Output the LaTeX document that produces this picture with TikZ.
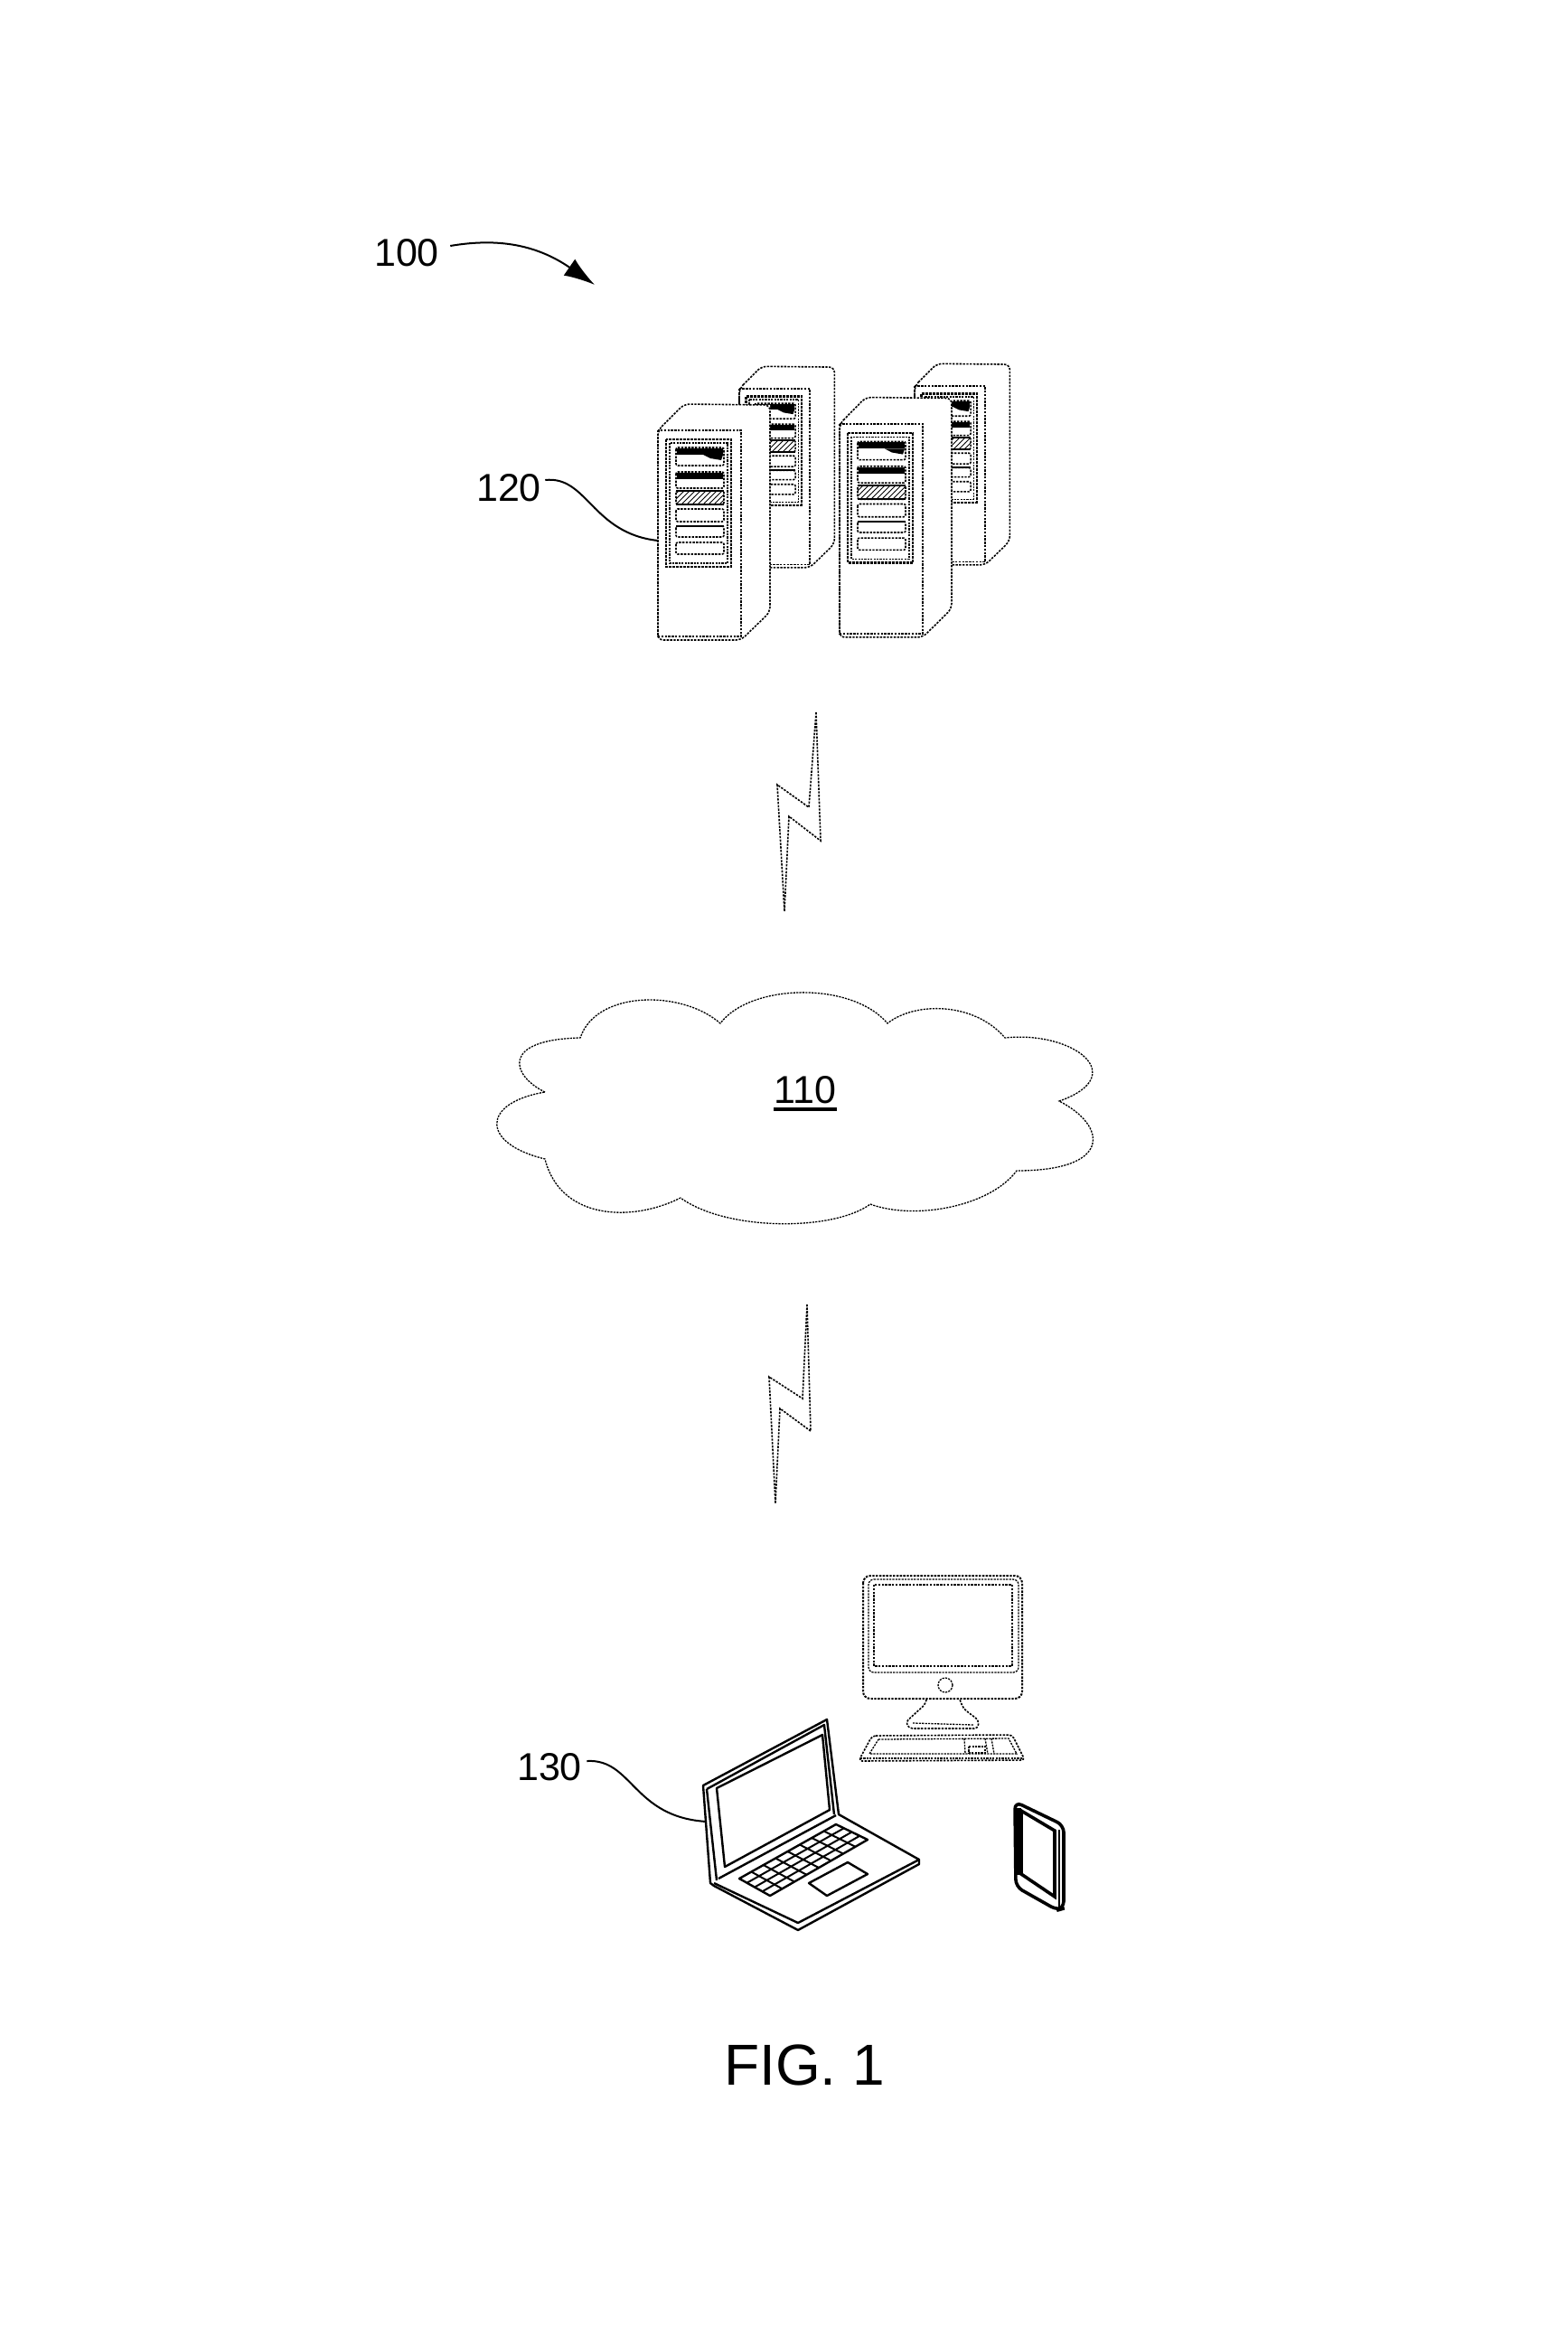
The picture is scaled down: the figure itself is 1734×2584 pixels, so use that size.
\documentclass[tikz,border=0pt]{standalone}
\usepackage{fontspec}
\setmainfont{Liberation Sans}
\usetikzlibrary{calc,arrows.meta,patterns}

\tikzset{
  grain/.style={line width=.8pt,dash pattern=on 1.2pt off .7pt},
  fine/.style={line width=.65pt,dash pattern=on 1.1pt off .6pt},
  heavy/.style={line width=1.3pt,dash pattern=on 1.5pt off .5pt},
  sketch/.style={line width=1.2pt,line join=round},
  leader/.style={line width=1pt},
  reflabel/.style={inner sep=0pt,font=\fontsize{21.5}{24}\selectfont},
}

% One tower: fill, outline, front face, front panel and six drive slots.
% Drawn in a local frame of 92 x 232 whose origin is the top left of the front face.
\newcommand{\towerbody}{%
  \fill[white] (0,0) -- (29,-29) -- (124,-28) -- (124,201) -- (92,232) -- (0,232) -- cycle;
  \draw[grain,rounded corners=3pt] (0,0) -- (29,-29) -- (124,-28) -- (124,201) -- (92,232) -- (0,232) -- cycle;
  \draw[grain] (0,0) rectangle (92,228);
  \draw[heavy] (9,10) rectangle (81,151);
  \draw[fine] (13,14) rectangle (77,147);
  \foreach \ya/\yb in {19/39,46/64,67/82,87/101,106/118,124/137}
    \draw[grain,rounded corners=1pt] (20,\ya) rectangle (73,\yb);
  \fill (21,20) rectangle (72,27);
  \fill (50,27) -- (72,27) -- (70,33) -- (58,31) -- cycle;
  \fill (21,47) rectangle (72,54);
  \fill[pattern=north east lines] (20,67) rectangle (73,82);
  \draw[line width=1pt] (20,67) -- (73,67);
  \draw[line width=1pt] (20,82) -- (73,82);
  \draw[line width=1pt] (20,106) -- (73,106);
}

\begin{document}
\begin{tikzpicture}[x=0.5pt,y=-0.5pt]
\useasboundingbox[fill=white] (0,0) rectangle (1734,2584);

% Reference numerals
\node[reflabel] (l100) at (450,280) {100};
\node[reflabel] (l120) at (563,540) {120};
\node[reflabel] (l130) at (608,1955) {130};
\coordinate (tip100) at (658,315);
\coordinate (end120) at (728,598);
\coordinate (end130) at (782,2015);
\draw[leader,-{Latex[length=17pt,width=11pt]}] ([xshift=6pt,yshift=4pt]l100.east)
  .. controls (545,264) and (590,268) .. (tip100);
\draw[leader] ([xshift=2pt,yshift=4.5pt]l120.east)
  .. controls (650,526) and (655,590) .. (end120);
\draw[leader] ([xshift=2.5pt,yshift=3.5pt]l130.east)
  .. controls (700,1945) and (700,2010) .. (end130);

% Server racks, rear units first
\begin{scope}[shift={(818,430)},xscale=.85,yscale=.853]\towerbody\end{scope}
\begin{scope}[shift={(1012,427)},xscale=.85,yscale=.853]\towerbody\end{scope}
\begin{scope}[shift={(728,476)}]\towerbody\end{scope}
\begin{scope}[shift={(929,469)},yscale=1.017]\towerbody\end{scope}

% Wireless links
\draw[grain,line join=miter] (903,788) -- (895,893) -- (860,868) -- (868,1008) -- (873,903) -- (908,930) -- cycle;
\draw[grain,line join=miter] (893,1443) -- (888,1547) -- (851,1523) -- (858,1663) -- (863,1558) -- (897,1583) -- cycle;

% Network cloud
\draw[fine] (603,1208)
  .. controls (566,1190) and (553,1150) .. (642,1148)
  .. controls (660,1095) and (755,1095) .. (797,1132)
  .. controls (830,1088) and (942,1085) .. (982,1132)
  .. controls (1012,1108) and (1078,1108) .. (1112,1148)
  .. controls (1188,1140) and (1252,1190) .. (1172,1218)
  .. controls (1225,1245) and (1232,1295) .. (1125,1295)
  .. controls (1095,1335) and (1012,1350) .. (963,1332)
  .. controls (922,1362) and (804,1362) .. (753,1325)
  .. controls (700,1352) and (620,1350) .. (603,1282)
  .. controls (532,1265) and (532,1220) .. cycle;
\node[reflabel] (l110) at (891,1206) {110};
\draw[line width=2pt] ([yshift=-2.5pt]l110.south west) -- ([yshift=-2.5pt]l110.south east);

% Desktop computer
\draw[grain,line width=1pt,rounded corners=4pt] (955,1743) rectangle (1131,1879);
\draw[fine,rounded corners=3pt] (961,1747) -- (1127,1747) -- (1127,1850) -- (961,1850) -- cycle;
\draw[grain] (967,1753) rectangle (1120,1843);
\draw[fine] (1046,1864) circle (8);
\draw[grain,rounded corners=2pt] (1025,1880) -- (1024,1885) -- (1002,1905) -- (1006,1912) -- (1082,1912) -- (1083,1903) -- (1066,1890) -- (1062,1880);
\draw[fine] (1010,1906) -- (1077,1908);
\draw[grain,rounded corners=2pt] (965,1920) -- (1120,1919) -- (1134,1947) -- (950,1948) -- cycle;
\draw[fine] (972,1924) -- (1116,1923) -- (1125,1940) -- (962,1940) -- cycle;
\draw[fine] (952,1945) -- (1132,1945);
\draw[fine] (1067,1923) -- (1068,1940);
\draw[fine] (1090,1923) -- (1093,1940);
\draw[fine] (1097,1923) -- (1100,1940);
\draw[fine] (1072,1932) rectangle (1090,1939);

% Laptop computer
\draw[sketch] (778,1975) -- (915,1902) -- (928,2007) -- (1017,2057) -- (1017,2062) -- (883,2135) -- (790,2086) -- (786,2083) -- cycle;
\draw[sketch] (782,1979) -- (912,1908) -- (923,2007);
\draw[sketch] (782,1979) -- (793,2080);
\draw[sketch] (793,1978) -- (910,1919) -- (918,2002) -- (802,2065) -- cycle;
\draw[sketch] (795,2078) -- (925,2008);
\draw[sketch] (790,2083) -- (883,2127) -- (1017,2057);
\coordinate (k1) at (818,2078);
\coordinate (k2) at (925,2018);
\coordinate (k3) at (960,2035);
\coordinate (k4) at (852,2097);
\draw[sketch] (k1) -- (k2) -- (k3) -- (k4) -- cycle;
\foreach \t in {.25,.5,.75}
  \draw[line width=1pt] ($(k1)!\t!(k4)$) -- ($(k2)!\t!(k3)$);
\foreach \t in {.125,.25,.375,.5,.625,.75,.875}
  \draw[line width=1pt] ($(k1)!\t!(k2)$) -- ($(k4)!\t!(k3)$);
\draw[sketch] (895,2083) -- (938,2060) -- (960,2073) -- (915,2097) -- cycle;

% Handheld device
\draw[line width=1.8pt,rounded corners=4pt] (1123,1993) -- (1177,2019) -- (1177,2111) -- (1170,2113) -- (1124,2087) -- cycle;
\draw[line width=1.8pt] (1130,2003) -- (1167,2025) -- (1167,2098) -- (1130,2073) -- cycle;
\draw[line width=2.6pt] (1127,2000) -- (1127,2074);
\draw[line width=1pt] (1172,2024) -- (1172,2110);

% Figure caption
\node[inner sep=0pt,font=\fontsize{32}{36}\selectfont] (caption) at (890,2284) {FIG. 1};
\end{tikzpicture}
\end{document}
